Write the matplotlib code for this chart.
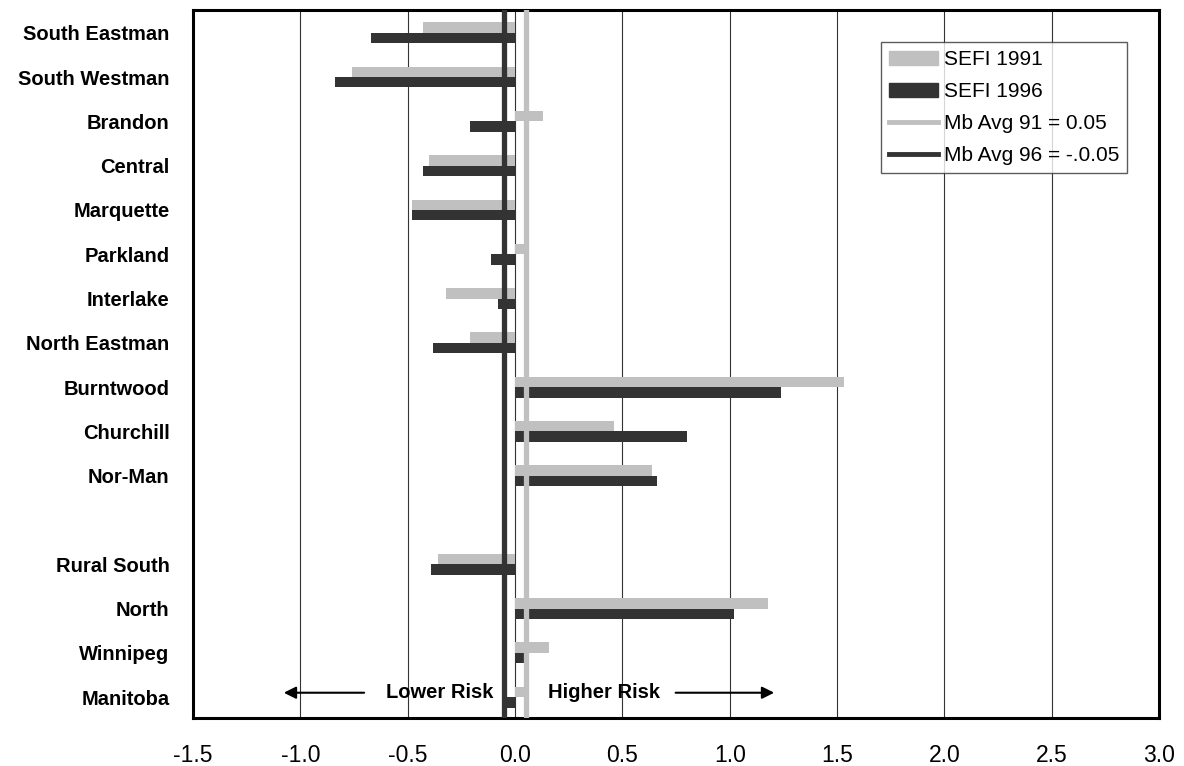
import numpy as np
import matplotlib.pyplot as plt
from matplotlib.patches import Patch
from matplotlib.lines import Line2D

plt.rcParams["font.family"] = ["Liberation Sans", "DejaVu Sans"]

# regions, top to bottom ('' = blank separator row)
regions = ["South Eastman", "South Westman", "Brandon", "Central", "Marquette",
           "Parkland", "Interlake", "North Eastman", "Burntwood", "Churchill",
           "Nor-Man", "", "Rural South", "North", "Winnipeg", "Manitoba"]
sefi_1991 = [-0.43, -0.76, 0.13, -0.40, -0.48, 0.05, -0.32, -0.21, 1.53, 0.46,
             0.64, np.nan, -0.36, 1.18, 0.16, 0.05]
sefi_1996 = [-0.67, -0.84, -0.21, -0.43, -0.48, -0.11, -0.08, -0.38, 1.24, 0.80,
             0.66, np.nan, -0.39, 1.02, 0.04, -0.05]
mb_avg_91 = 0.05
mb_avg_96 = -0.05
x_ticks = [-1.5, -1.0, -0.5, 0.0, 0.5, 1.0, 1.5, 2.0, 2.5, 3.0]

LIGHT = "#c0c0c0"
DARK = "#333333"

fig = plt.figure(figsize=(11.84, 7.66), dpi=100)
ax = fig.add_axes([0.163, 0.0627, 0.816, 0.924])

y = np.arange(len(regions))
h = 0.235
ax.barh(y - h / 2, sefi_1991, height=h, color=LIGHT, zorder=2)
ax.barh(y + h / 2, sefi_1996, height=h, color=DARK, zorder=2)

ax.axvline(mb_avg_91, color=LIGHT, lw=3.8, zorder=3)
ax.axvline(mb_avg_96, color=DARK, lw=3.8, zorder=3)

ax.set_xlim(-1.5, 3.0)
ax.set_ylim(15.47, -0.51)
ax.set_xticks(x_ticks)
ax.set_xticklabels([f"{t:.1f}" for t in x_ticks], fontsize=16.5)
ax.set_yticks(y)
ax.set_yticklabels(regions, fontsize=14.5, fontweight="bold")
ax.tick_params(axis="x", length=0, pad=19)
ax.tick_params(axis="y", length=0, pad=17)
ax.grid(axis="x", color=DARK, lw=0.8, zorder=1)
ax.set_axisbelow(True)
for s in ax.spines.values():
    s.set_linewidth(2.2)
    s.set_color("black")

# direction hints
ty = 14.9
ax.annotate("", xy=(-1.09, ty), xytext=(-0.69, ty),
            arrowprops=dict(arrowstyle="-|>", color="black", lw=1.5, mutation_scale=18))
ax.annotate("", xy=(1.22, ty), xytext=(0.735, ty),
            arrowprops=dict(arrowstyle="-|>", color="black", lw=1.5, mutation_scale=18))
ax.text(-0.10, ty, "Lower Risk", ha="right", va="center", fontsize=14.5,
        fontweight="bold", zorder=4)
ax.text(0.155, ty, "Higher Risk", ha="left", va="center", fontsize=14.5,
        fontweight="bold", zorder=4)

handles = [Patch(color=LIGHT), Patch(color=DARK),
           Line2D([], [], color=LIGHT, lw=3.5), Line2D([], [], color=DARK, lw=3.5)]
labels = ["SEFI 1991", "SEFI 1996", "Mb Avg 91 = 0.05", "Mb Avg 96 = -.0.05"]
leg = ax.legend(handles, labels, loc="upper right", bbox_to_anchor=(0.967, 0.955),
                borderaxespad=0, fontsize=15, frameon=True, fancybox=False,
                handlelength=2.35, handletextpad=0.25, labelspacing=0.62,
                borderpad=0.4)
leg.get_frame().set_edgecolor(DARK)
leg.get_frame().set_linewidth(1.0)

fig.savefig("out.png", dpi=100)
